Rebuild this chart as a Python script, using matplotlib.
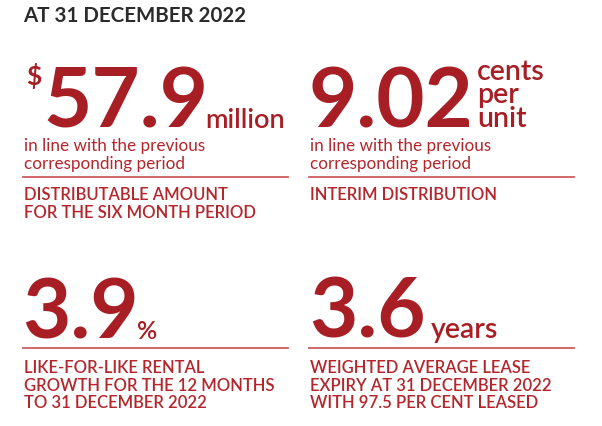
import matplotlib
matplotlib.use('Agg')
import matplotlib.pyplot as plt

plt.rcParams['font.family'] = ['Lato', 'DejaVu Sans']

RED = '#a81e25'
RED_TXT = '#b3262c'
LINE = '#cf5a5e'
DARK = '#2b2b2b'

title = 'AT 31 DECEMBER 2022'
prefixes = ['$', '', '', '']
values = ['57.9', '9.02', '3.9', '3.6']
units = ['million', 'cents\nper\nunit', '%', 'years']
notes = ['in line with the previous\ncorresponding period',
         'in line with the previous\ncorresponding period', '', '']
captions = ['DISTRIBUTABLE AMOUNT\nFOR THE SIX MONTH PERIOD',
            'INTERIM DISTRIBUTION',
            'LIKE-FOR-LIKE RENTAL\nGROWTH FOR THE 12 MONTHS\nTO 31 DECEMBER 2022',
            'WEIGHTED AVERAGE LEASE\nEXPIRY AT 31 DECEMBER 2022\nWITH 97.5 PER CENT LEASED']

fig = plt.figure(figsize=(6.02, 4.27), dpi=100)
ax = fig.add_axes([0, 0, 1, 1])
ax.set_xlim(0, 602)
ax.set_ylim(427, 0)
ax.axis('off')

ax.text(23, 22, title, fontsize=14.8, fontweight='bold', color=DARK, va='baseline')

# layout in pixels (x from left, y from top)
cols = [23, 309]
num_x = [43, 309, 22, 309]
base_y = [128, 127, 339, 338]
unit_x = [205, 477, 137, 431]
unit_fs = [19.5, 20.5, 18, 20.5]
rule_y = [178, 178, 349, 349]
cap_y = [200, 200, 373, 373]

for i in range(4):
    x0 = cols[i % 2]
    if prefixes[i]:
        ax.text(26, 85, prefixes[i], fontsize=19, color=RED, fontweight='bold', va='baseline')
    ax.text(num_x[i], base_y[i], values[i], fontsize=60, fontweight='bold', color=RED,
            va='baseline')
    if '\n' in units[i]:
        for k, u in enumerate(units[i].split('\n')):
            ax.text(unit_x[i], 80 + k * 23.5, u, fontsize=unit_fs[i], color=RED,
                    fontweight='semibold', va='baseline')
    else:
        ax.text(unit_x[i], base_y[i], units[i], fontsize=unit_fs[i], color=RED,
                fontweight='semibold', va='baseline')
    if notes[i]:
        for k, n in enumerate(notes[i].split('\n')):
            ax.text(x0 + 1, 151 + k * 17.7, n, fontsize=12.3, color=RED_TXT, va='baseline')
    ax.plot([x0, x0 + 265], [rule_y[i]] * 2, color=LINE, lw=1.3)
    for k, cap in enumerate(captions[i].split('\n')):
        ax.text(x0 + 1, cap_y[i] + k * 17.6, cap, fontsize=12, color=RED_TXT,
                fontweight='semibold', va='baseline')

fig.savefig('out.png', dpi=100)
